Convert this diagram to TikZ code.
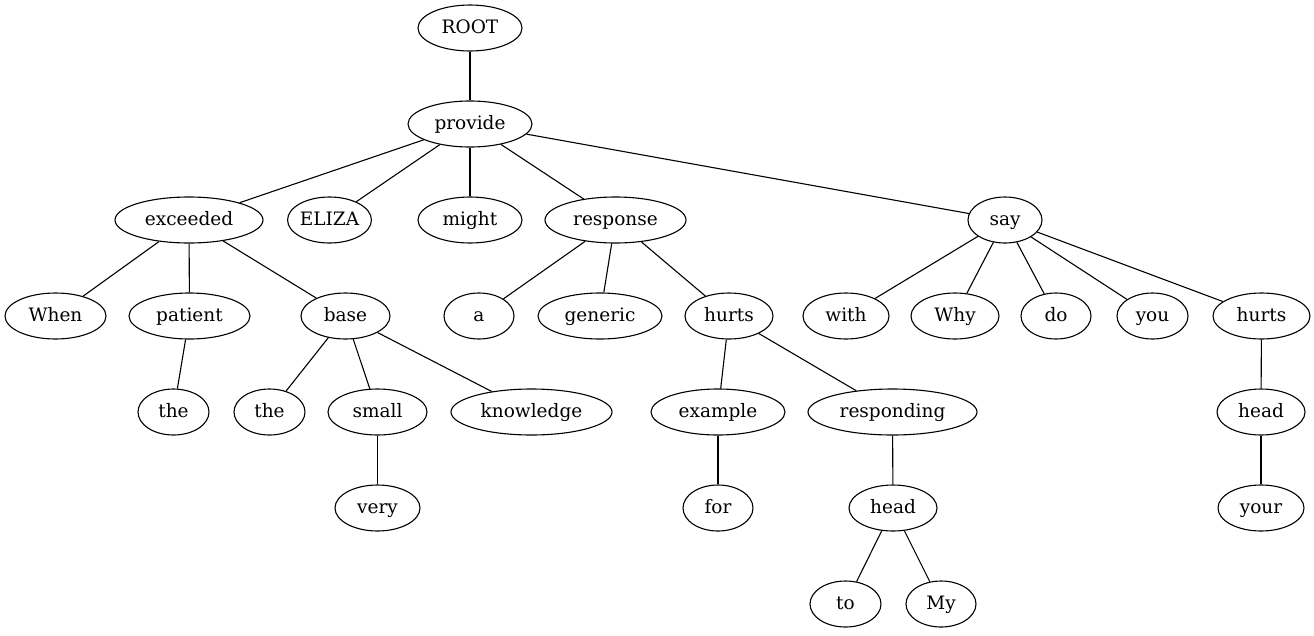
\documentclass[tikz,border=0pt]{standalone}
\usepackage{fontspec}
\setmainfont{DejaVu Serif}
\usetikzlibrary{shapes.geometric}
\begin{document}
\begin{tikzpicture}[x=1pt,y=-1pt,
  nd/.style={draw,ellipse,inner sep=0pt,minimum height=46pt,line width=1.1pt,text height=13.5pt,text depth=3.5pt,font=\fontsize{18.5}{20}\selectfont},
  ed/.style={line width=1.1pt}]
\useasboundingbox (0,0) rectangle (1314,635);
\node[nd,minimum width=104] (root) at (470,28) {ROOT};
\node[nd,minimum width=124] (provide) at (470,124) {provide};
\node[nd,minimum width=148] (exceeded) at (189,220) {exceeded};
\node[nd,minimum width=83] (eliza) at (329.5,220) {ELIZA};
\node[nd,minimum width=104] (might) at (470,220) {might};
\node[nd,minimum width=141] (response) at (615.5,220) {response};
\node[nd,minimum width=74] (say) at (1005,220) {say};
\node[nd,minimum width=101] (when) at (55.5,316) {When};
\node[nd,minimum width=121] (patient) at (189.5,316) {patient};
\node[nd,minimum width=89] (base) at (345.5,316) {base};
\node[nd,minimum width=70] (a) at (479,316) {a};
\node[nd,minimum width=124] (generic) at (600,316) {generic};
\node[nd,minimum width=88] (hurts) at (729,316) {hurts};
\node[nd,minimum width=86] (with) at (846,316) {with};
\node[nd,minimum width=88] (why) at (955,316) {Why};
\node[nd,minimum width=70] (do) at (1056,316) {do};
\node[nd,minimum width=71] (you) at (1152.5,316) {you};
\node[nd,minimum width=97] (hurtsb) at (1261.5,316) {hurts};
\node[nd,minimum width=71] (thea) at (173.5,412) {the};
\node[nd,minimum width=71] (theb) at (269.5,412) {the};
\node[nd,minimum width=99] (small) at (377.5,412) {small};
\node[nd,minimum width=161] (knowledge) at (531.5,412) {knowledge};
\node[nd,minimum width=134] (example) at (718,412) {example};
\node[nd,minimum width=169] (responding) at (892.5,412) {responding};
\node[nd,minimum width=88] (headb) at (1261,412) {head};
\node[nd,minimum width=85] (very) at (377.5,508) {very};
\node[nd,minimum width=70] (for) at (718,508) {for};
\node[nd,minimum width=88] (head) at (893,508) {head};
\node[nd,minimum width=86] (your) at (1261,508) {your};
\node[nd,minimum width=71] (to) at (845.5,604) {to};
\node[nd,minimum width=70] (my) at (941,604) {My};
\foreach \p/\c in {root/provide,provide/exceeded,provide/eliza,provide/might,provide/response,provide/say,
  exceeded/when,exceeded/patient,exceeded/base,patient/thea,base/theb,base/small,base/knowledge,small/very,
  response/a,response/generic,response/hurts,hurts/example,hurts/responding,example/for,responding/head,
  head/to,head/my,say/with,say/why,say/do,say/you,say/hurtsb,hurtsb/headb,headb/your}
  \draw[ed] (\p) -- (\c);
\end{tikzpicture}
\end{document}
